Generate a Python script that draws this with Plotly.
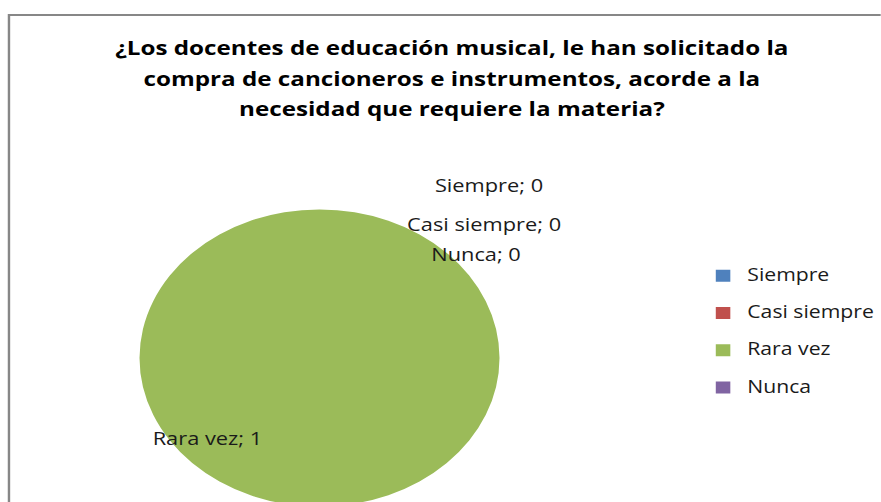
import plotly.graph_objects as go

# ---- data ----
categories = ["Siempre", "Casi siempre", "Rara vez", "Nunca"]
values = [0, 0, 1, 0]
colors = ["#4F81BD", "#C0504D", "#9BBB59", "#8064A2"]
title_lines = [
    "¿Los docentes de educación musical, le han solicitado la",
    "compra de cancioneros e instrumentos, acorde a la",
    "necesidad que requiere la materia?",
]

# the reference image is horizontally stretched; lay out unstretched, then scale X
SX = 180.5 / 149
W_OUT, H = 881, 512
W = round(W_OUT / SX)
FONT = "Open Sans"

def px_x(x):          # x measured on the (stretched) reference picture
    return x / W_OUT

def px_y(y):
    return (H - y) / H

cx, cy, r = 320.5, 358, 149

legend_labels = [f'<span style="font-size:17.5px;baseline-shift:5px">{c}</span>' for c in categories]

fig = go.Figure(
    go.Pie(
        labels=legend_labels,
        values=values,
        marker=dict(colors=colors, line=dict(width=0)),
        textinfo="none",
        sort=False,
        direction="clockwise",
        rotation=0,
        hoverinfo="label+value",
        domain=dict(x=[px_x(cx) - r / W, px_x(cx) + r / W],
                    y=[px_y(cy + r), px_y(cy - r)]),
    )
)

# data labels
label_pos = {
    "Siempre": (490, 185),
    "Casi siempre": (486, 224),
    "Nunca": (478, 254),
    "Rara vez": (208, 438),
}
for c, v in zip(categories, values):
    x, y = label_pos[c]
    fig.add_annotation(
        text=f"{c}; {v}", x=px_x(x), y=px_y(y), xref="paper", yref="paper",
        showarrow=False, xanchor="center", yanchor="middle",
        font=dict(family=FONT, size=18, color="#1a1a1a"),
    )

# chart border
fig.add_shape(type="rect", xref="paper", yref="paper",
              x0=px_x(9), x1=1.2, y0=-0.2, y1=px_y(15),
              line=dict(color="#878787", width=2), fillcolor="rgba(0,0,0,0)", layer="below")

title_html = "<br>".join(f'<span style="font-size:20px">{t}</span>' for t in title_lines)

fig.update_layout(
    width=W, height=H,
    margin=dict(l=0, r=0, t=0, b=0),
    paper_bgcolor="white",
    plot_bgcolor="white",
    title=dict(
        text=title_html,
        x=px_x(452), xanchor="center",
        y=px_y(55), yanchor="top",
        font=dict(family=FONT, size=23.5, color="#000000", weight="bold"),
    ),
    font=dict(family=FONT, color="#1a1a1a"),
    legend=dict(
        x=px_x(701), xanchor="left",
        y=px_y(252), yanchor="top",
        font=dict(family=FONT, size=26.4, color="#1a1a1a"),
        bgcolor="rgba(0,0,0,0)",
    ),
    showlegend=True,
)

post = """
document.documentElement.style.overflow='hidden';
document.body.style.margin='0';
document.body.style.overflow='hidden';
var gd = document.getElementById('{plot_id}');
gd.style.transformOrigin = '0 0';
gd.style.transform = 'scaleX(%s)';
""" % SX

fig.write_html("out.html", post_script=post, config={"displayModeBar": False})
